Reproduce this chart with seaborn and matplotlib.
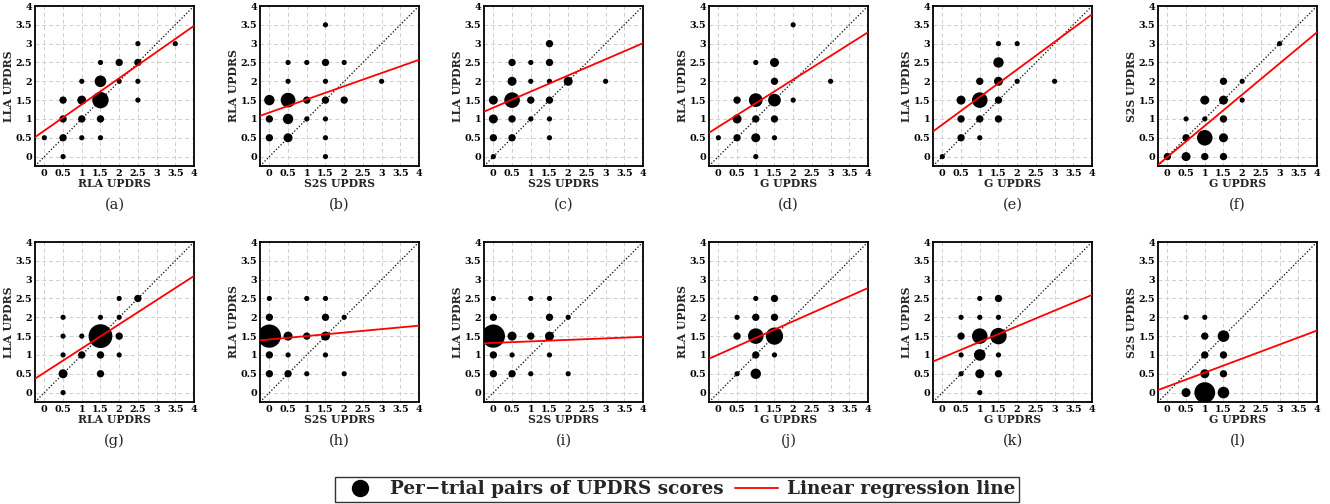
import numpy as np
import pandas as pd
import matplotlib
matplotlib.use("Agg")
import matplotlib.pyplot as plt
from matplotlib.lines import Line2D
import seaborn as sns

# ---------------- data ----------------
panel_tags = ["(a)", "(b)", "(c)", "(d)", "(e)", "(f)",
              "(g)", "(h)", "(i)", "(j)", "(k)", "(l)"]
x_labels = ["RLA UPDRS", "S2S UPDRS", "S2S UPDRS", "G UPDRS", "G UPDRS", "G UPDRS",
            "RLA UPDRS", "S2S UPDRS", "S2S UPDRS", "G UPDRS", "G UPDRS", "G UPDRS"]
y_labels = ["LLA UPDRS", "RLA UPDRS", "LLA UPDRS", "RLA UPDRS", "LLA UPDRS", "S2S UPDRS",
            "LLA UPDRS", "RLA UPDRS", "LLA UPDRS", "RLA UPDRS", "LLA UPDRS", "S2S UPDRS"]

# (x, y, count) per panel
pts_a = [(0, 0.5, 1), (0.5, 0, 1), (0.5, 0.5, 2), (0.5, 1, 2), (0.5, 1.5, 2), (1, 0.5, 1),
         (1, 1, 2), (1, 1.5, 3), (1, 2, 1), (1.5, 0.5, 1), (1.5, 1, 2), (1.5, 1.5, 10),
         (1.5, 2, 5), (1.5, 2.5, 1), (2, 2, 1), (2, 2.5, 2), (2.5, 1.5, 1), (2.5, 2, 1),
         (2.5, 2.5, 2), (2.5, 3, 1), (3.5, 3, 1)]
pts_b = [(0, 0.5, 2), (0, 1, 2), (0, 1.5, 4), (0.5, 0.5, 3), (0.5, 1, 4), (0.5, 1.5, 8),
         (0.5, 2, 1), (0.5, 2.5, 1), (1, 1, 1), (1, 1.5, 2), (1, 2.5, 1), (1.5, 0, 1),
         (1.5, 0.5, 1), (1.5, 1, 1), (1.5, 1.5, 2), (1.5, 2, 1), (1.5, 2.5, 2), (1.5, 3.5, 1),
         (2, 1.5, 2), (2, 2.5, 1), (3, 2, 1)]
pts_c = [(0, 0, 1), (0, 0.5, 2), (0, 1, 3), (0, 1.5, 3), (0.5, 0.5, 2), (0.5, 1, 2),
         (0.5, 1.5, 9), (0.5, 2, 3), (0.5, 2.5, 2), (1, 1, 1), (1, 1.5, 2), (1, 2, 1),
         (1, 2.5, 1), (1.5, 0.5, 1), (1.5, 1, 1), (1.5, 1.5, 2), (1.5, 2, 1), (1.5, 2.5, 2),
         (1.5, 3, 2), (2, 2, 3), (3, 2, 1)]
pts_d = [(0, 0.5, 1), (0.5, 0.5, 2), (0.5, 1, 3), (0.5, 1.5, 2), (1, 0, 1), (1, 0.5, 3),
         (1, 1, 2), (1, 1.5, 7), (1, 2.5, 1), (1.5, 0.5, 1), (1.5, 1, 2), (1.5, 1.5, 6),
         (1.5, 2, 2), (1.5, 2.5, 3), (2, 1.5, 1), (2, 3.5, 1), (3, 2, 1)]
pts_e = [(0, 0, 1), (0.5, 0.5, 2), (0.5, 1, 2), (0.5, 1.5, 3), (1, 0.5, 1), (1, 1, 2),
         (1, 1.5, 9), (1, 2, 2), (1.5, 1, 2), (1.5, 1.5, 2), (1.5, 2, 3), (1.5, 2.5, 4),
         (1.5, 3, 1), (2, 2, 1), (2, 3, 1), (3, 2, 1)]
pts_f = [(0, 0, 2), (0.5, 0, 3), (0.5, 0.5, 2), (0.5, 1, 1), (1, 0, 2), (1, 0.5, 9),
         (1, 1, 1), (1, 1.5, 3), (1.5, 0, 2), (1.5, 0.5, 3), (1.5, 1, 2), (1.5, 1.5, 3),
         (1.5, 2, 2), (2, 1.5, 1), (2, 2, 1), (3, 3, 1)]
pts_g = [(0.5, 0, 1), (0.5, 0.5, 3), (0.5, 1, 1), (0.5, 1.5, 1), (0.5, 2, 1), (1, 1, 2),
         (1, 1.5, 1), (1.5, 0.5, 2), (1.5, 1, 2), (1.5, 1.5, 21), (1.5, 2, 1), (2, 1, 1),
         (2, 1.5, 2), (2, 2, 1), (2, 2.5, 1), (2.5, 2.5, 2)]
pts_h = [(0, 0.5, 2), (0, 1, 2), (0, 1.5, 20), (0, 2, 2), (0, 2.5, 1), (0.5, 0.5, 2),
         (0.5, 1, 1), (0.5, 1.5, 3), (1, 0.5, 1), (1, 1.5, 2), (1, 2.5, 1), (1.5, 1, 1),
         (1.5, 1.5, 3), (1.5, 2, 2), (1.5, 2.5, 1), (2, 0.5, 1), (2, 2, 1)]
pts_i = [(0, 0.5, 2), (0, 1, 2), (0, 1.5, 20), (0, 2, 2), (0, 2.5, 1), (0.5, 0.5, 2),
         (0.5, 1, 1), (0.5, 1.5, 3), (1, 0.5, 1), (1, 1.5, 2), (1, 2.5, 1), (1.5, 1, 1),
         (1.5, 1.5, 3), (1.5, 2, 2), (1.5, 2.5, 1), (2, 0.5, 1), (2, 2, 1)]
pts_j = [(0.5, 0.5, 1), (0.5, 1.5, 2), (0.5, 2, 1), (1, 0.5, 4), (1, 1, 2), (1, 1.5, 9),
         (1, 2, 2), (1, 2.5, 1), (1.5, 1, 1), (1.5, 1.5, 11), (1.5, 2, 2), (1.5, 2.5, 2)]
pts_k = [(0.5, 0.5, 1), (0.5, 1, 1), (0.5, 1.5, 2), (0.5, 2, 1), (1, 0, 1), (1, 0.5, 3),
         (1, 1, 5), (1, 1.5, 9), (1, 2, 1), (1, 2.5, 1), (1.5, 0.5, 2), (1.5, 1, 1),
         (1.5, 1.5, 10), (1.5, 2, 1), (1.5, 2.5, 2)]
pts_l = [(0.5, 0, 3), (0.5, 2, 1), (1, 0, 16), (1, 0.5, 3), (1, 1, 2), (1, 1.5, 2),
         (1, 2, 1), (1.5, 0, 5), (1.5, 0.5, 2), (1.5, 1, 2), (1.5, 1.5, 5)]
all_points = [pts_a, pts_b, pts_c, pts_d, pts_e, pts_f,
              pts_g, pts_h, pts_i, pts_j, pts_k, pts_l]

# linear regression lines (intercept, slope)
reg_intercept = [0.69, 1.17, 1.30, 0.79, 0.85, -0.01, 0.53, 1.41, 1.32, 1.01, 0.93, 0.16]
reg_slope = [0.696, 0.35, 0.428, 0.628, 0.732, 0.828, 0.642, 0.092, 0.04, 0.442, 0.416, 0.372]

tick_vals = [0, 0.5, 1, 1.5, 2, 2.5, 3, 3.5, 4]
tick_text = ["0", "0.5", "1", "1.5", "2", "2.5", "3", "3.5", "4"]

legend_labels = ["Per\u2212trial pairs of UPDRS scores", "Linear regression line"]

# ---------------- style ----------------
sns.set_style("white")
plt.rcParams["font.family"] = ["DejaVu Serif", "Liberation Serif"]
plt.rcParams["font.weight"] = "bold"

W, H = 1330, 504
fig = plt.figure(figsize=(W / 100, H / 100), dpi=100)

col_left = [35, 260, 484, 709, 933, 1158]
row_top = [6, 242]
ax_w, ax_h = 159, 160

for k in range(12):
    r, c = divmod(k, 6)
    left = col_left[c] / W
    bottom = (H - row_top[r] - ax_h) / H
    ax = fig.add_axes([left, bottom, ax_w / W, ax_h / H])
    df = pd.DataFrame(all_points[k], columns=["x", "y", "n"])
    ax.set_xlim(-0.25, 4)
    ax.set_ylim(-0.25, 4)
    ax.set_axisbelow(True)
    ax.grid(True, color="#cfcfcf", linestyle=(0, (4, 3)), linewidth=0.7)
    ax.axline((0, 0), slope=1, color="black", linestyle=(0, (1, 1.6)), linewidth=0.9, zorder=2)
    sns.scatterplot(data=df, x="x", y="y", size="n", sizes=(14, 14 * 21), size_norm=(1, 21),
                    color="black", edgecolor="black", linewidth=0, legend=False, ax=ax, zorder=3)
    ax.axline((0, reg_intercept[k]), slope=reg_slope[k], color="#ff0000", linewidth=1.3, zorder=4)
    ax.set_xticks(tick_vals)
    ax.set_xticklabels(tick_text)
    ax.set_yticks(tick_vals)
    ax.set_yticklabels(tick_text)
    ax.tick_params(axis="both", which="both", direction="in", length=2, width=0.8,
                   labelsize=6.9, pad=2, colors="black")
    ax.set_xlabel(x_labels[k], fontsize=7.8, fontweight="bold", labelpad=0)
    ax.set_ylabel(y_labels[k], fontsize=7.8, fontweight="bold", labelpad=1)
    for sp in ax.spines.values():
        sp.set_visible(True)
        sp.set_color("black")
        sp.set_linewidth(1.3)
    ax.text(0.5, -0.24, panel_tags[k], transform=ax.transAxes, ha="center", va="center",
            fontsize=10.5, fontweight="normal")

handles = [Line2D([0], [0], marker="o", color="none", markerfacecolor="black",
                  markeredgecolor="black", markersize=11.5),
           Line2D([0], [0], color="#ff0000", linewidth=1.3)]
leg = fig.legend(handles, legend_labels, loc="lower center", bbox_to_anchor=(0.509, 0.0),
                 ncol=2, frameon=True, fancybox=False, edgecolor="black",
                 prop={"size": 13.3, "weight": "bold"}, handlelength=2.3,
                 columnspacing=0.6, handletextpad=0.5, borderpad=0.2, borderaxespad=0.1)
leg.get_frame().set_linewidth(1.0)

fig.savefig("out.png", dpi=100)
